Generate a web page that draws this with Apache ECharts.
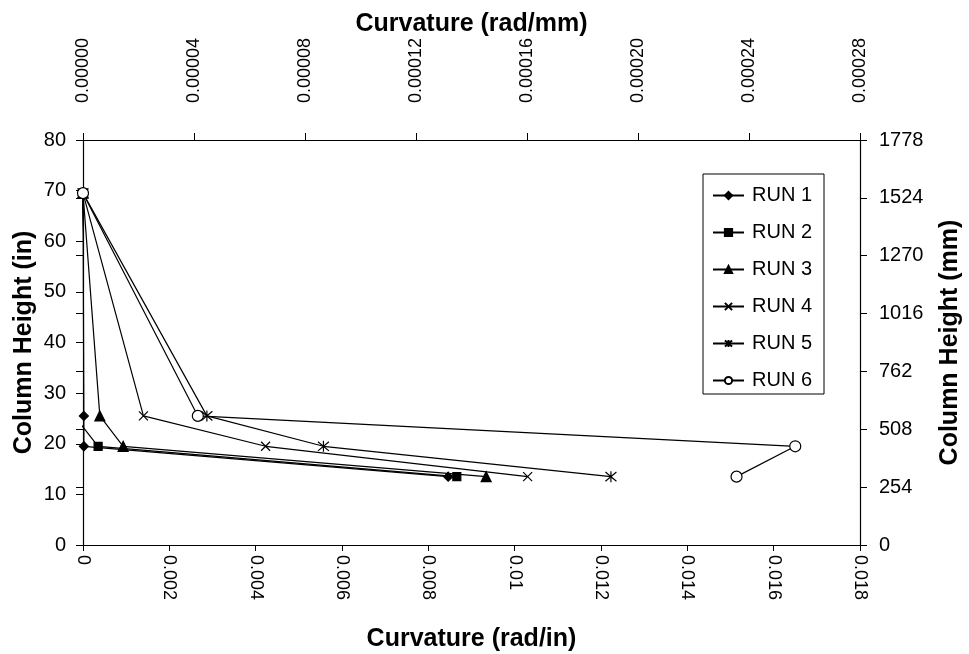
<!DOCTYPE html>
<html>
<head>
<meta charset="utf-8">
<title>Curvature vs Column Height</title>
<script src="https://cdn.jsdelivr.net/npm/echarts@6/dist/echarts.min.js"></script>
<style>
  html, body { margin: 0; padding: 0; background: #fff; }
  #chart { width: 969px; height: 654px; }
</style>
</head>
<body>
<div id="chart"></div>
<script>
// column heights (in) at the four gauge levels
const heights = [69.5, 25.5, 19.5, 13.5];

// curvature (rad/in) for each run
const run1 = [0, 0.00002, 0.00002, 0.00846];
const run2 = [0, -0.0002, 0.00035, 0.00866];
const run3 = [0, 0.00039, 0.00093, 0.00934];
const run4 = [0, 0.0014, 0.00423, 0.0103];
const run5 = [0, 0.00287, 0.00557, 0.01223];
const run6 = [0, 0.00266, 0.0165, 0.01514];

const runNames = ['RUN 1', 'RUN 2', 'RUN 3', 'RUN 4', 'RUN 5', 'RUN 6'];
const runValues = [run1, run2, run3, run4, run5, run6];

const FONT = '"Liberation Sans", Arial, sans-serif';

const crossPath = 'path://M0,0L10,10M10,0L0,10';
const starPath = 'path://M0,0L10,10M10,0L0,10M5,-1L5,11';

const markers = [
  { symbol: 'diamond', size: 9, fill: '#000' },
  { symbol: 'rect', size: 8, fill: '#000' },
  { symbol: 'triangle', size: 10, fill: '#000' },
  { symbol: crossPath, size: 9, fill: 'none' },
  { symbol: starPath, size: 11, fill: 'none' },
  { symbol: 'circle', size: 11, fill: '#fff' }
];

const chart = echarts.init(document.getElementById('chart'));

const series = runNames.map((name, i) => ({
  name: name,
  type: 'line',
  xAxisIndex: 0,
  yAxisIndex: 0,
  clip: true,
  symbol: markers[i].symbol,
  symbolSize: markers[i].size,
  showAllSymbol: true,
  animation: false,
  z: 2 + i,
  lineStyle: { color: '#000', width: 1.2 },
  itemStyle: { color: markers[i].fill, borderColor: '#000', borderWidth: 1.2, opacity: 1 },
  emphasis: { disabled: true },
  data: runValues[i].map((v, k) => [v, heights[k]])
}));

const axisText = { color: '#000', fontFamily: FONT, fontSize: 20 };
const rotText = { color: '#000', fontFamily: FONT, fontSize: 18 };
const nameText = { color: '#000', fontFamily: FONT, fontSize: 25, fontWeight: 'bold' };

chart.setOption({
  backgroundColor: '#fff',
  animation: false,
  grid: { left: 83, right: 109, top: 140, bottom: 109, outerBoundsMode: 'none' },
  legend: {
    orient: 'vertical',
    left: 703,
    top: 174,
    padding: [10, 12, 2, 9],
    itemWidth: 31,
    itemHeight: 9,
    itemGap: 14,
    borderColor: '#000',
    borderWidth: 1,
    backgroundColor: '#fff',
    textStyle: { color: '#000', fontFamily: FONT, fontSize: 20, padding: [0, 0, 0, 3], lineHeight: 23 },
    data: runNames
  },
  xAxis: [
    {
      type: 'value',
      position: 'bottom',
      min: 0, max: 0.018, interval: 0.002,
      name: 'Curvature (rad/in)',
      nameLocation: 'middle',
      nameGap: 82,
      nameTextStyle: nameText,
      axisLine: { onZero: false, lineStyle: { color: '#000', width: 1.2 } },
      axisTick: { show: true, length: 6, lineStyle: { color: '#000' } },
      splitLine: { show: false },
      axisLabel: Object.assign({}, rotText, {
        rotate: -90, margin: 10,
        formatter: v => String(+v.toFixed(3))
      })
    },
    {
      type: 'value',
      position: 'top',
      min: 0, max: 0.00028, interval: 0.00004,
      name: 'Curvature (rad/mm)',
      nameLocation: 'middle',
      nameGap: 103,
      nameMoveOverlap: false,
      nameTextStyle: nameText,
      axisLine: { onZero: false, lineStyle: { color: '#000', width: 1.2 } },
      axisTick: { show: true, length: 7, lineStyle: { color: '#000' } },
      splitLine: { show: false },
      axisLabel: Object.assign({}, rotText, {
        rotate: -90, margin: 37,
        formatter: v => v.toFixed(5)
      })
    }
  ],
  yAxis: [
    {
      type: 'value',
      position: 'left',
      min: 0, max: 80, interval: 10,
      name: 'Column Height (in)',
      nameLocation: 'middle',
      nameGap: 46,
      nameMoveOverlap: false,
      nameTextStyle: nameText,
      axisLine: { show: true, onZero: false, lineStyle: { color: '#000', width: 1.2 } },
      axisTick: { show: true, length: 7, lineStyle: { color: '#000' } },
      splitLine: { show: false },
      axisLabel: Object.assign({}, axisText, { margin: 17 })
    },
    {
      type: 'value',
      position: 'right',
      min: 0, max: 1778, interval: 254,
      name: 'Column Height (mm)',
      nameLocation: 'middle',
      nameGap: 78,
      nameTextStyle: nameText,
      axisLine: { show: true, onZero: false, lineStyle: { color: '#000', width: 1.2 } },
      axisTick: { show: true, length: 7, lineStyle: { color: '#000' } },
      splitLine: { show: false },
      axisLabel: Object.assign({}, axisText, { margin: 19, formatter: v => String(v) })
    },
    {
      // inner half of the crossing ticks on the right axis
      type: 'value',
      position: 'right',
      min: 0, max: 1778, interval: 254,
      axisLine: { show: false },
      axisTick: { show: true, inside: true, length: 7, lineStyle: { color: '#000' } },
      splitLine: { show: false },
      axisLabel: { show: false }
    }
  ],
  series: series
});
</script>
</body>
</html>
